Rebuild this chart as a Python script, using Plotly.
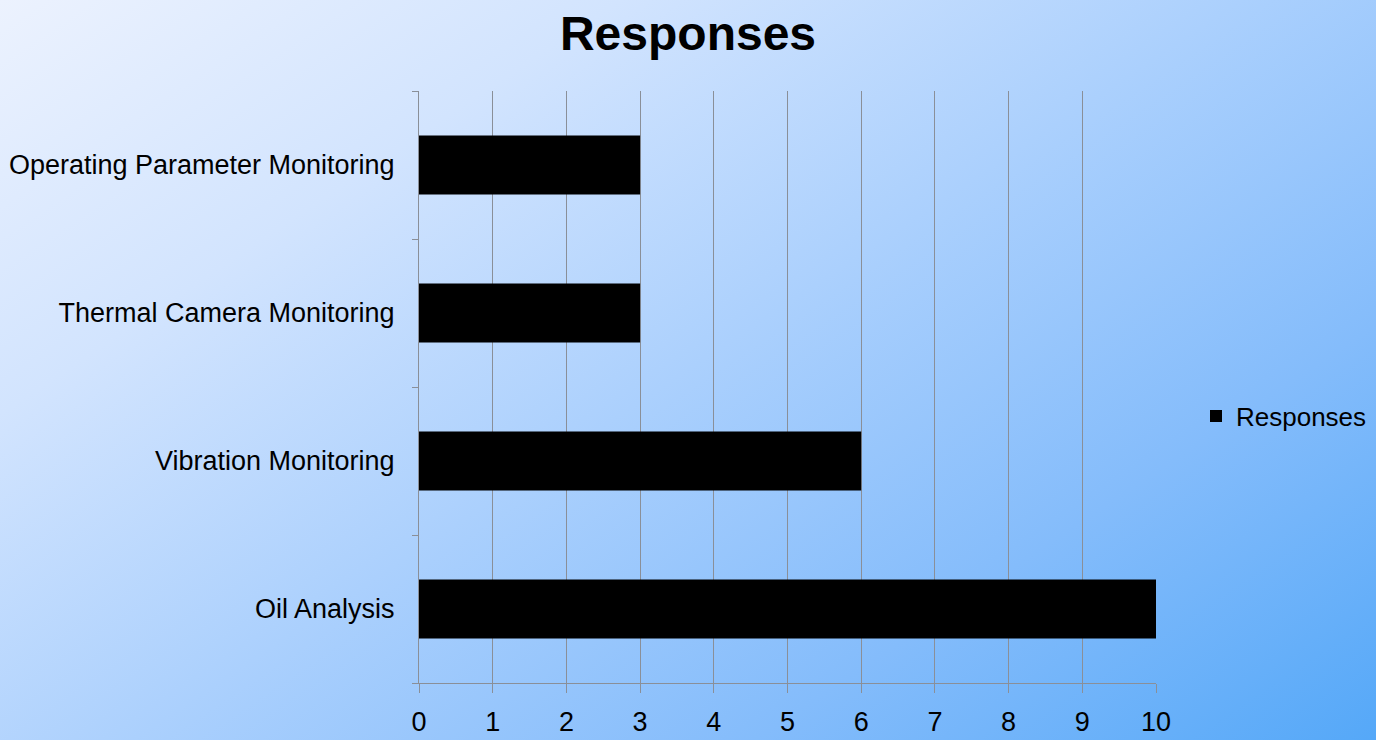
import base64
import plotly.graph_objects as go

categories = ["Oil Analysis", "Vibration Monitoring", "Thermal Camera Monitoring", "Operating Parameter Monitoring"]
responses = [10, 6, 3, 3]
x_ticks = [0, 1, 2, 3, 4, 5, 6, 7, 8, 9, 10]
series_name = "Responses"
title_text = "Responses"

svg = (
    '<svg xmlns="http://www.w3.org/2000/svg" width="1376" height="740" preserveAspectRatio="none" viewBox="0 0 1376 740">'
    '<defs><linearGradient id="g" gradientUnits="userSpaceOnUse" x1="0" y1="0" x2="765" y2="1147">'
    '<stop offset="0" stop-color="#ecf2fe"/>'
    '<stop offset="0.25" stop-color="#d2e4fe"/>'
    '<stop offset="0.5" stop-color="#abd0fd"/>'
    '<stop offset="0.75" stop-color="#84bcfb"/>'
    '<stop offset="1" stop-color="#55a8f8"/>'
    '</linearGradient></defs>'
    '<rect x="0" y="0" width="1376" height="740" fill="url(#g)"/></svg>'
)
bg_uri = "data:image/svg+xml;base64," + base64.b64encode(svg.encode()).decode()

FONT = "Liberation Sans, Arial, sans-serif"

fig = go.Figure()
fig.add_trace(go.Bar(
    y=categories, x=responses, orientation="h", name=series_name,
    marker=dict(color="#000000", line=dict(width=0)),
    showlegend=True,
))

fig.update_layout(
    width=1376, height=740, autosize=False,
    margin=dict(l=419, r=220, t=91, b=57, pad=0, autoexpand=False),
    paper_bgcolor="rgba(0,0,0,0)",
    plot_bgcolor="rgba(0,0,0,0)",
    bargap=0.6,
    images=[dict(source=bg_uri, xref="paper", yref="paper",
                 x=-419/737, y=1 + 91/592, sizex=1376/737, sizey=740/592,
                 sizing="stretch", layer="below", xanchor="left", yanchor="top")],
    title=dict(text="<b>" + title_text + "</b>", x=0.5, xref="container", xanchor="center",
               y=1 - 33/740, yref="container", yanchor="middle",
               font=dict(family=FONT, size=48, color="#000000")),
    font=dict(family=FONT, size=27, color="#000000"),
    legend=dict(x=1196/1376, xref="container", xanchor="left",
                y=1 - 416/740, yref="container", yanchor="middle",
                bgcolor="rgba(0,0,0,0)", font=dict(family=FONT, size=26, color="#000000"),
                itemwidth=30),
    xaxis=dict(
        range=[0, 10], tickvals=x_ticks, ticktext=[str(v) for v in x_ticks],
        showgrid=True, gridcolor="#8a8f98", gridwidth=1,
        showline=True, linecolor="#8a8f98", linewidth=1,
        ticks="outside", ticklen=9, tickcolor="#8a8f98",
        zeroline=False, ticklabelstandoff=6, automargin=False,
        tickfont=dict(family=FONT, size=27, color="#000000"),
        fixedrange=True,
    ),
    yaxis=dict(
        type="category", categoryorder="array", categoryarray=categories,
        showgrid=False, showline=True, linecolor="#8a8f98", linewidth=1,
        ticks="outside", ticklen=6, tickcolor="#8a8f98", tickson="boundaries",
        ticklabelstandoff=18, automargin=False,
        tickfont=dict(family=FONT, size=27, color="#000000"),
        fixedrange=True,
    ),
)

post = (
    "document.documentElement.style.margin='0';"
    "document.documentElement.style.padding='0';"
    "document.documentElement.style.overflow='hidden';"
    "document.body.style.margin='0';"
    "document.body.style.padding='0';"
    "document.body.style.overflow='hidden';"
)
fig.write_html("out.html", post_script=post,
               config={"displayModeBar": False, "responsive": False})
